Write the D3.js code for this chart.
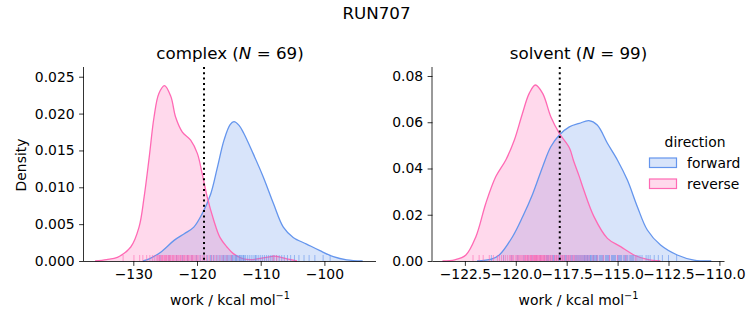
<!DOCTYPE html>
<html><head><meta charset="utf-8">
<script src="https://cdn.jsdelivr.net/npm/d3@7"></script>
<style>body{margin:0;background:#fff;} text{font-family:"DejaVu Sans",sans-serif;fill:#000;}</style>
</head><body><div id="chart"></div>
<script>
// ---------- data ----------
const figTitle = "RUN707";
const directions = ["forward", "reverse"];
const colors = ["#6495ED", "#FF69B4"];

const complexN = 69, solventN = 99;
const complexTicksX = [-130, -120, -110, -100];
const complexTicksY = [0, 0.005, 0.010, 0.015, 0.020, 0.025];
const solventTicksX = [-122.5, -120, -117.5, -115, -112.5, -110];
const solventTicksY = [0, 0.02, 0.04, 0.06, 0.08];
const complexVline = -118.9;
const solventVline = -117.84;

// KDE curves: [work, density]
const complexForwardKde = [[-128.5,0],[-127.5,0.0003],[-125.7,0.0012],[-123.6,0.0028],[-122.0,0.0037],[-120.5,0.0046],[-119.2,0.0064],[-117.85,0.0091],[-116.8,0.0127],[-115.76,0.0164],[-114.8,0.0185],[-114.2,0.0189],[-113.4,0.0184],[-112.7,0.0174],[-111.2,0.0146],[-109.6,0.0114],[-108.0,0.0078],[-106.45,0.0046],[-104.9,0.0032],[-102.8,0.0023],[-100.7,0.0014],[-98.6,0.0006],[-96.5,0.00016],[-94.0,0]];
const complexReverseKde = [[-136.0,0],[-134.2,0.0002],[-132.5,0.0005],[-130.4,0.0019],[-129.1,0.0046],[-128.3,0.0087],[-127.5,0.0141],[-126.75,0.0195],[-126.0,0.0227],[-125.1,0.0238],[-124.1,0.0223],[-123.35,0.0195],[-122.3,0.0175],[-121.0,0.0164],[-119.95,0.0146],[-119.2,0.0119],[-118.4,0.0087],[-117.4,0.0056],[-116.4,0.0032],[-115.3,0.0019],[-114.3,0.001],[-112.7,0.0003],[-111.2,0.0002],[-109.1,0.0005],[-107.8,0.00065],[-105.9,0.0003],[-104.3,0]];
const solventForwardKde = [[-121.9,0],[-121.2,0.0008],[-120.81,0.0026],[-120.16,0.0105],[-119.67,0.019],[-119.17,0.029],[-118.68,0.0408],[-118.28,0.0494],[-117.86,0.0545],[-117.37,0.058],[-116.88,0.0595],[-116.41,0.0607],[-116.0,0.0588],[-115.5,0.0509],[-115.01,0.0437],[-114.52,0.035],[-114.03,0.0235],[-113.54,0.0134],[-112.89,0.0069],[-112.07,0.0026],[-111.25,0.0004],[-110.4,0]];
const solventReverseKde = [[-123.6,0],[-123.0,0.0005],[-122.45,0.0026],[-121.96,0.0105],[-121.47,0.025],[-120.98,0.0365],[-120.49,0.0437],[-120.07,0.0523],[-119.67,0.0639],[-119.34,0.0725],[-119.04,0.0761],[-118.68,0.0725],[-118.28,0.0624],[-117.86,0.0552],[-117.37,0.049],[-117.15,0.043],[-116.88,0.0365],[-116.66,0.0307],[-116.16,0.0192],[-115.5,0.0098],[-114.85,0.0062],[-114.2,0.0026],[-113.54,0.0007],[-112.9,0]];

// individual work values (rug)
const complexForwardWork = [-125.8,-124.4,-123.2,-122.3,-121.5,-120.8,-120.1,-119.5,-118.9,-118.4,-117.9,-117.4,-117.0,-116.7,-116.4,-116.1,-115.8,-115.6,-115.4,-115.2,-115.0,-114.8,-114.6,-114.4,-114.2,-114.0,-113.8,-113.6,-113.4,-113.2,-113.0,-112.8,-112.6,-112.4,-112.1,-111.8,-111.5,-111.2,-110.9,-110.6,-110.3,-110.0,-109.7,-109.4,-109.1,-108.8,-108.5,-108.2,-107.9,-107.5,-107.1,-106.7,-106.3,-105.8,-105.3,-104.7,-104.0,-103.2,-102.4,-101.5,-100.2,-99.1,-114.5,-113.9,-113.3,-112.7,-115.9,-117.7,-110.8];
const complexReverseWork = [-131.6,-129.9,-128.5,-127.9,-127.4,-127.0,-126.7,-126.4,-126.2,-126.0,-125.8,-125.6,-125.4,-125.3,-125.1,-125.0,-124.8,-124.7,-124.5,-124.4,-124.2,-124.1,-123.9,-123.7,-123.5,-123.3,-123.1,-122.9,-122.7,-122.5,-122.3,-122.1,-121.9,-121.7,-121.5,-121.3,-121.1,-120.9,-120.7,-120.5,-120.3,-120.1,-119.9,-119.7,-119.4,-119.1,-118.8,-118.5,-118.1,-117.7,-117.3,-116.9,-116.4,-115.9,-115.3,-114.6,-125.9,-125.5,-124.9,-124.3,-123.8,-123.2,-122.6,-122.0,-121.4,-120.8,-108.0,-107.5,-129.0];
const solventForwardWork = [-121.2,-120.6,-120.2,-119.9,-119.6,-119.4,-119.2,-119.0,-118.8,-118.6,-118.5,-118.4,-118.3,-118.2,-118.1,-118.0,-117.9,-117.8,-117.7,-117.6,-117.5,-117.4,-117.3,-117.2,-117.1,-117.0,-116.9,-116.85,-116.8,-116.75,-116.7,-116.65,-116.6,-116.55,-116.5,-116.45,-116.4,-116.35,-116.3,-116.25,-116.2,-116.15,-116.1,-116.05,-116.0,-115.9,-115.8,-115.7,-115.6,-115.5,-115.4,-115.3,-115.2,-115.1,-115.0,-114.9,-114.8,-114.7,-114.6,-114.5,-114.4,-114.3,-114.2,-114.1,-114.0,-113.8,-113.6,-113.4,-113.2,-113.0,-112.8,-112.5,-112.1,-117.55,-117.25,-116.95,-116.62,-116.32,-116.02,-115.75,-115.45,-115.15,-114.85,-114.55,-114.25,-117.85,-118.15,-118.45,-117.05,-116.48,-116.18,-115.85,-115.55,-115.25,-114.95,-114.65,-114.35,-113.9,-113.5];
const solventReverseWork = [-122.1,-121.6,-121.3,-121.1,-120.9,-120.8,-120.6,-120.5,-120.4,-120.3,-120.2,-120.1,-120.0,-119.95,-119.9,-119.8,-119.75,-119.7,-119.6,-119.55,-119.5,-119.45,-119.4,-119.35,-119.3,-119.25,-119.2,-119.15,-119.1,-119.05,-119.0,-118.95,-118.9,-118.85,-118.8,-118.75,-118.7,-118.65,-118.6,-118.5,-118.45,-118.4,-118.3,-118.2,-118.1,-118.0,-117.9,-117.8,-117.7,-117.6,-117.5,-117.4,-117.3,-117.2,-117.1,-117.0,-116.9,-116.8,-116.6,-116.4,-116.2,-116.0,-115.7,-115.4,-115.0,-114.6,-114.1,-119.52,-119.28,-119.08,-118.98,-118.78,-118.58,-120.15,-119.85,-119.65,-119.42,-119.22,-119.02,-118.82,-118.62,-118.35,-118.05,-117.75,-117.45,-117.15,-116.7,-120.7,-121.8,-120.25,-119.12,-118.92,-118.72,-118.52,-118.25,-117.95,-117.65,-117.35,-116.5];

// ---------- drawing ----------
(function () {
const W = 753, H = 325;
const svg = d3.select("#chart").append("svg").attr("width", W).attr("height", H);
const FS = 13.9, TFS = 16.7;

svg.append("text").attr("x", 376.5).attr("y", 19).attr("text-anchor", "middle")
  .style("font-size", TFS + "px").text(figTitle);

const axTop = 67, axBottom = 261, axW = 292;

function panel(opts) {
  const x = d3.scaleLinear().domain(opts.xDomain).range([opts.left, opts.left + axW]);
  const y = d3.scaleLinear().domain(opts.yDomain).range([axBottom, axTop]);
  const g = svg.append("g");
  const area = d3.area().x(d => x(d[0])).y0(y(0)).y1(d => y(d[1])).curve(d3.curveCatmullRom);
  const line = d3.line().x(d => x(d[0])).y(d => y(d[1])).curve(d3.curveCatmullRom);
  const curves = [opts.fwd, opts.rev];
  curves.forEach((c, i) => {
    g.append("path").attr("d", area(c)).attr("fill", colors[i]).attr("fill-opacity", 0.25);
  });
  curves.forEach((c, i) => {
    g.append("path").attr("d", line(c)).attr("fill", "none").attr("stroke", colors[i]).attr("stroke-width", 1.3);
  });
  const rugs = [opts.fwdWork, opts.revWork];
  rugs.forEach((r, i) => {
    g.selectAll(null).data(r).enter().append("line")
      .attr("x1", d => x(d)).attr("x2", d => x(d))
      .attr("y1", axBottom).attr("y2", axBottom - 6)
      .attr("stroke", colors[i]).attr("stroke-opacity", 0.6).attr("stroke-width", 1);
  });
  g.append("line").attr("x1", x(opts.vline)).attr("x2", x(opts.vline))
    .attr("y1", axTop).attr("y2", axBottom).attr("stroke", "#000")
    .attr("stroke-width", 2).attr("stroke-dasharray", "2,3.3");
  const xa = g.append("g").attr("transform", `translate(0,${axBottom})`)
    .call(d3.axisBottom(x).tickValues(opts.xTicks).tickSize(4.9).tickPadding(3.5)
      .tickFormat(d => (opts.xFmt(d)).replace("-", "\u2212")));
  const ya = g.append("g").attr("transform", `translate(${opts.left},0)`)
    .call(d3.axisLeft(y).tickValues(opts.yTicks).tickSize(4.9).tickPadding(4.5)
      .tickFormat(opts.yFmt));
  [xa, ya].forEach(a => {
    a.select(".domain").attr("stroke-width", 0.8);
    a.selectAll(".tick line").attr("stroke-width", 0.8);
    a.selectAll("text").style("font-size", FS + "px").style("font-family", '"DejaVu Sans"');
  });
  xa.select(".domain").attr("d", `M${opts.left},0.5H${opts.left + axW}`);
  ya.select(".domain").attr("d", `M-0.5,${axTop}V${axBottom}`);
  const t = svg.append("text").attr("x", opts.left + axW / 2).attr("y", 59).attr("text-anchor", "middle")
    .style("font-size", TFS + "px");
  t.append("tspan").text(opts.name + " (");
  t.append("tspan").style("font-style", "italic").text("N");
  t.append("tspan").text(" = " + opts.n + ")");
  const xl = svg.append("text").attr("x", opts.left + axW / 2).attr("y", 305).attr("text-anchor", "middle")
    .style("font-size", FS + "px");
  xl.append("tspan").text("work / kcal mol");
  xl.append("tspan").attr("dy", -6).style("font-size", "9.7px").text("\u22121");
}

panel({left: 84, xDomain: [-137.74, -91.9], yDomain: [0, 0.02632],
  fwd: complexForwardKde, rev: complexReverseKde, fwdWork: complexForwardWork, revWork: complexReverseWork,
  vline: complexVline, xTicks: complexTicksX, yTicks: complexTicksY,
  xFmt: d3.format("d"), yFmt: d3.format(".3f"), name: "complex", n: complexN});
panel({left: 432.5, xDomain: [-124.09, -109.75], yDomain: [0, 0.08389],
  fwd: solventForwardKde, rev: solventReverseKde, fwdWork: solventForwardWork, revWork: solventReverseWork,
  vline: solventVline, xTicks: solventTicksX, yTicks: solventTicksY,
  xFmt: d3.format(".1f"), yFmt: d3.format(".2f"), name: "solvent", n: solventN});

svg.append("text").attr("transform", "translate(26,165) rotate(-90)").attr("text-anchor", "middle")
  .style("font-size", FS + "px").text("Density");

const lg = svg.append("g");
lg.append("text").attr("x", 695).attr("y", 147).attr("text-anchor", "middle")
  .style("font-size", FS + "px").text("direction");
directions.forEach((d, i) => {
  const yy = 158 + i * 21;
  lg.append("rect").attr("x", 649.5).attr("y", yy).attr("width", 27).attr("height", 9.5)
    .attr("fill", colors[i]).attr("fill-opacity", 0.25).attr("stroke", colors[i]).attr("stroke-width", 1.2);
  lg.append("text").attr("x", 687).attr("y", yy + 9.5).style("font-size", FS + "px").text(d);
});
})();
</script></body></html>
